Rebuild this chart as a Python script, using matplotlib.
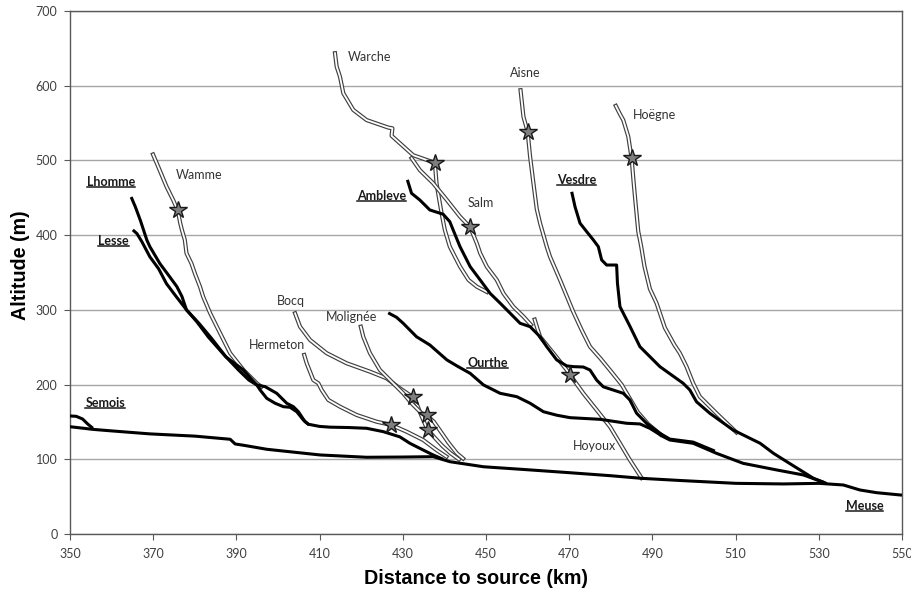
import numpy as np
import matplotlib.pyplot as plt
from matplotlib.lines import Line2D

# --- main rivers (thick black lines): distance to source (km), altitude (m)
meuse_km = [350, 355.6, 360, 369.2, 380, 388.5, 389.7, 392, 397.3, 410.1, 421.3, 430, 437.3,
            439.7, 441.3, 449.4, 460, 470.2, 480, 487.4, 497.4, 510.1, 521.5, 530.1, 535.9,
            539.9, 543.9, 550]
meuse_m = [143.6, 140, 138, 134, 131, 126.8, 120.5, 118.5, 113.4, 105.8, 102.7, 103, 103.5,
           99.5, 96.8, 90, 86, 82, 78, 74.5, 71.4, 67.8, 67, 67.8, 65.6, 58.9, 55.3, 52]

semois_km = [350, 351.5, 353, 354.3, 355.5]
semois_m = [158, 157.5, 154, 147, 141.5]

lesse_km = [365.1, 366.1, 367.3, 369.2, 371.3, 373.2, 375.5, 378.0, 380.5, 383.2, 387.0,
            390.5, 393.0, 394.9, 395.7, 397.3, 399.3, 401.3, 402.9, 404.5, 406.1, 407.3,
            410, 412.5, 417, 421.3, 425.3, 429.3, 431.7, 434.9, 437.3, 439.7]
lesse_m = [407, 402, 391, 371, 355, 335, 318, 300, 284, 264, 240, 219.5, 206, 199.5, 192.8,
           181.6, 175, 170.4, 169.6, 163.7, 152.6, 146.9, 144, 143, 142.5, 141.5, 137, 130,
           121.4, 112.4, 105.8, 100]

lhomme_km = [364.7, 365.7, 366.9, 368.5, 369.2, 371.6, 372.8, 374.0, 375.7, 376.9, 378.0,
             381.0, 384.0, 387.5, 391.7, 393.5, 394.9, 396.9, 399.7, 402.1, 403.7, 404.9,
             406.5, 407.5]
lhomme_m = [451, 438, 420, 393, 384.6, 362, 353, 344, 331, 318, 300, 282, 262, 237,
            219.5, 208, 199.5, 197.2, 188.3, 175, 170.4, 163.7, 150.3, 146]

ambleve_km = [431.1, 432.1, 434.1, 436.5, 439.7, 441.3, 442.1, 443.75, 446.2, 448.6, 451,
              453.4, 455.8, 458.2, 460.6, 463, 464.6, 467, 469.4, 471, 473.4, 475, 476.6,
              478.2, 483, 484.6, 486.2, 488.6, 491.8, 494.2, 499.8, 505]
ambleve_m = [474, 456, 447, 433.7, 428, 418, 407, 384.6, 357.8, 340, 322, 309, 295.5, 282,
             277.5, 264, 250.7, 233, 225, 224, 223.5, 219.5, 206, 197, 188.3, 179.4, 161.6,
             148.2, 134.8, 127, 123, 111]

ourthe_km = [426.5, 428.5, 430.1, 433.3, 436.5, 440.6, 443, 446.2, 449.4, 453.4, 457.4,
             460.6, 463.8, 467, 470.2, 477.4, 483.8, 487, 489.4, 492.6, 494.2, 499.8, 505.4,
             511.8, 519.9, 526.3, 531.5]
ourthe_m = [296, 290, 282, 264, 253, 233, 225, 215, 199.5, 188.3, 183.8, 175, 163.7, 159,
            155.7, 153.5, 148.2, 147.3, 141.4, 130.3, 125.8, 121.4, 108, 94.6, 85.7, 79, 68.5]

vesdre_km = [470.6, 471.4, 472.6, 474.2, 475.8, 477, 477.8, 479, 481.4, 481.6, 482.2, 484.6,
             487, 491.8, 497.4, 499, 500.6, 503.8, 509.4, 515.9, 519.1, 522.3, 525.5, 528.7,
             531.9]
vesdre_m = [458, 438, 416, 404.7, 393.6, 384.6, 366.8, 360, 360, 335.6, 304.3, 278, 250.7,
            224, 201.7, 192.8, 177, 161.6, 139.2, 121.4, 108, 96.8, 85.7, 74.6, 67.5]

# --- tributaries (double lines)
wamme_km = [369.95, 371.2, 373.2, 374.8, 375.9, 376.5, 376.9, 377.6, 378.0, 379.2, 380.0,
            381.25, 382.0, 383.7, 385.3, 386.9, 388.5, 391.7, 394.9, 396.0]
wamme_m = [508, 491.7, 465, 447, 433, 416, 407, 393.6, 375.8, 362, 349, 331, 317.7, 295.4,
           277.5, 259.7, 242, 219.5, 201.7, 197]

warche_km = [413.7, 414.1, 414.9, 415.7, 418.1, 421.3, 426.5, 427.5, 427.3, 429.3, 432.5,
             435.7, 437.7, 438.1, 438.5, 439.3, 440.1, 441.3, 443.75, 445.8, 447.8, 450.2]
warche_m = [643.5, 625.6, 612, 590, 567.6, 554, 544, 543, 533, 523, 507, 500.7, 497, 470,
            456, 430, 407, 384.6, 358, 340, 331, 324]

salm_km = [432.1, 434.1, 437.3, 440.6, 443.75, 446.2, 447.8, 448.6, 450.2, 452.6, 454.2,
           456.6, 459, 460.8]
salm_m = [503, 487, 469.5, 447, 424.8, 410.6, 389, 375.8, 357.8, 340, 322, 304, 291, 280]

aisne_km = [458.3, 459, 460, 460.6, 461.4, 462.2, 463, 464.6, 465.4, 467.8, 471, 473, 475,
            477.5, 480, 482.6, 484.6, 486.5, 489, 492]
aisne_m = [594, 558.6, 538.6, 505, 469.5, 435, 416, 384.6, 371, 340, 297, 273, 250.7, 235,
           218, 200, 181, 163, 147, 133]

hoegne_km = [481.2, 482.2, 483, 484.2, 485, 485.5, 486.0, 486.6, 487.3, 488.1, 489.4,
             491, 493, 495.3, 496.6, 498.2, 499.8, 501.4, 505.4, 510.2]
hoegne_m = [573, 562, 554, 532, 503, 470, 440, 405, 385, 358, 328, 309, 276, 253,
            242, 224, 201.7, 183.8, 161.6, 136]

hoyoux_km = [461.7, 462.3, 463, 466.2, 469.4, 470.2, 473.4, 476.6, 479.8, 482.2, 484.6, 487.4]
hoyoux_m = [287, 276, 264, 242, 219.5, 213, 188.3, 166, 143.6, 121.4, 99, 75]

bocq_km = [404.1, 405.3, 407.7, 411.7, 416.5, 422.1, 426.1, 429.3, 432.5, 433.5, 434.5,
           435.5, 436.1, 437.5, 439.5, 441.5, 443.5]
bocq_m = [295.4, 277.5, 259.7, 242, 228.5, 217.3, 208.4, 195, 183, 172, 158, 145, 139,
          130, 118, 108, 100]

molignee_km = [419.9, 420.5, 422.1, 424.5, 427.7, 430.1, 432.1, 434.5, 435.7, 437.5, 439,
               441, 443, 444.5]
molignee_m = [277.5, 264, 242, 219.5, 201.7, 188.3, 175, 161.6, 159.3, 150, 138, 122, 108,
              101]

hermeton_km = [406.3, 406.9, 408.5, 409.7, 410.5, 412.1, 414.9, 418.9, 423.7, 427.2, 430.9,
               434.9, 438.1, 440.5]
hermeton_m = [239.6, 228.5, 206, 201.7, 192.8, 179.4, 170.4, 159.3, 150.3, 146, 137, 125.8,
              112.4, 103.5]

# stars
star_km = [375.9, 437.7, 446.2, 460.0, 485.0, 470.2, 432.5, 435.7, 436.1, 427.2]
star_m = [433, 497, 410.6, 538.6, 503, 213, 183, 159.3, 139, 146]

# labels: name, km, m, main river?
labels = [("Warche", 416.8, 638.5, False), ("Aisne", 455.8, 617.5, False),
          ("Hoëgne", 485.2, 561, False), ("Wamme", 375.5, 480.6, False),
          ("Lhomme", 354.0, 471.6, True), ("Lesse", 356.8, 392.6, True),
          ("Ambleve", 419.0, 452.5, True), ("Salm", 445.7, 442.7, False),
          ("Vesdre", 467.1, 474, True), ("Bocq", 399.8, 312, False),
          ("Molignée", 411.5, 290, False), ("Hermeton", 393.0, 253, False),
          ("Semois", 353.7, 175, True), ("Ourthe", 445.5, 229.3, True),
          ("Hoyoux", 471.0, 117.8, False), ("Meuse", 536.5, 37.5, True)]

fig = plt.figure(figsize=(9.12, 5.89), dpi=100)
ax = fig.add_axes([70 / 912, 55 / 589, 832 / 912, 523 / 589])

thick = [(meuse_km, meuse_m), (semois_km, semois_m), (lesse_km, lesse_m),
         (lhomme_km, lhomme_m), (ambleve_km, ambleve_m), (ourthe_km, ourthe_m),
         (vesdre_km, vesdre_m)]
double = [(wamme_km, wamme_m), (warche_km, warche_m), (salm_km, salm_m),
          (aisne_km, aisne_m), (hoegne_km, hoegne_m), (hoyoux_km, hoyoux_m),
          (bocq_km, bocq_m), (molignee_km, molignee_m), (hermeton_km, hermeton_m)]

z = 3
for km, m in double:
    ax.plot(km, m, color='#404040', lw=3.0, solid_joinstyle='round', zorder=z)
    ax.plot(km, m, color='white', lw=1.3, solid_joinstyle='round', zorder=z + 0.1)
    z += 0.2
for km, m in thick:
    ax.plot(km, m, color='black', lw=2.2, solid_joinstyle='round',
            solid_capstyle='butt', zorder=6)

ax.plot(star_km, star_m, ls='none', marker='*', ms=13, mfc='#7f7f7f', mec='#1a1a1a',
        mew=1.0, zorder=8)

ax.set_xlim(350, 550)
ax.set_ylim(0, 700)
ax.set_xticks(np.arange(350, 551, 20))
ax.set_yticks(np.arange(0, 701, 100))
ax.yaxis.grid(True, color='#a6a6a6', lw=1.0)
ax.set_axisbelow(True)
for s in ax.spines.values():
    s.set_color('#595959')
    s.set_linewidth(1.0)
ax.tick_params(direction='out', length=4, color='#595959', labelcolor='#404040',
               labelsize=9)
ax.tick_params(axis='x', pad=6)
ax.tick_params(axis='y', pad=5)
for t in ax.get_xticklabels() + ax.get_yticklabels():
    t.set_family('Lato')

fig.text(476 / 912, 1 - 578 / 589, 'Distance to source (km)', ha='center', va='center',
         fontsize=14.2, fontweight='bold', family='Liberation Sans')
fig.text(21 / 912, 1 - 265 / 589, 'Altitude (m)', ha='center', va='center', rotation=90,
         fontsize=14.2, fontweight='bold', family='Liberation Sans')

under = []
for name, x, y, main in labels:
    t = ax.text(x, y, name, ha='left', va='center', fontsize=9, family='Lato',
                fontweight='bold' if main else 'normal',
                color='#1a1a1a' if main else '#333333', zorder=9)
    if main:
        under.append(t)

fig.canvas.draw()
r = fig.canvas.get_renderer()
for t in under:
    bb = t.get_window_extent(r)
    y = bb.y0 + 1.0
    fig.add_artist(Line2D([bb.x0, bb.x1], [y, y], transform=None, color='#1a1a1a', lw=1.1))

fig.savefig('out.png', dpi=100)
